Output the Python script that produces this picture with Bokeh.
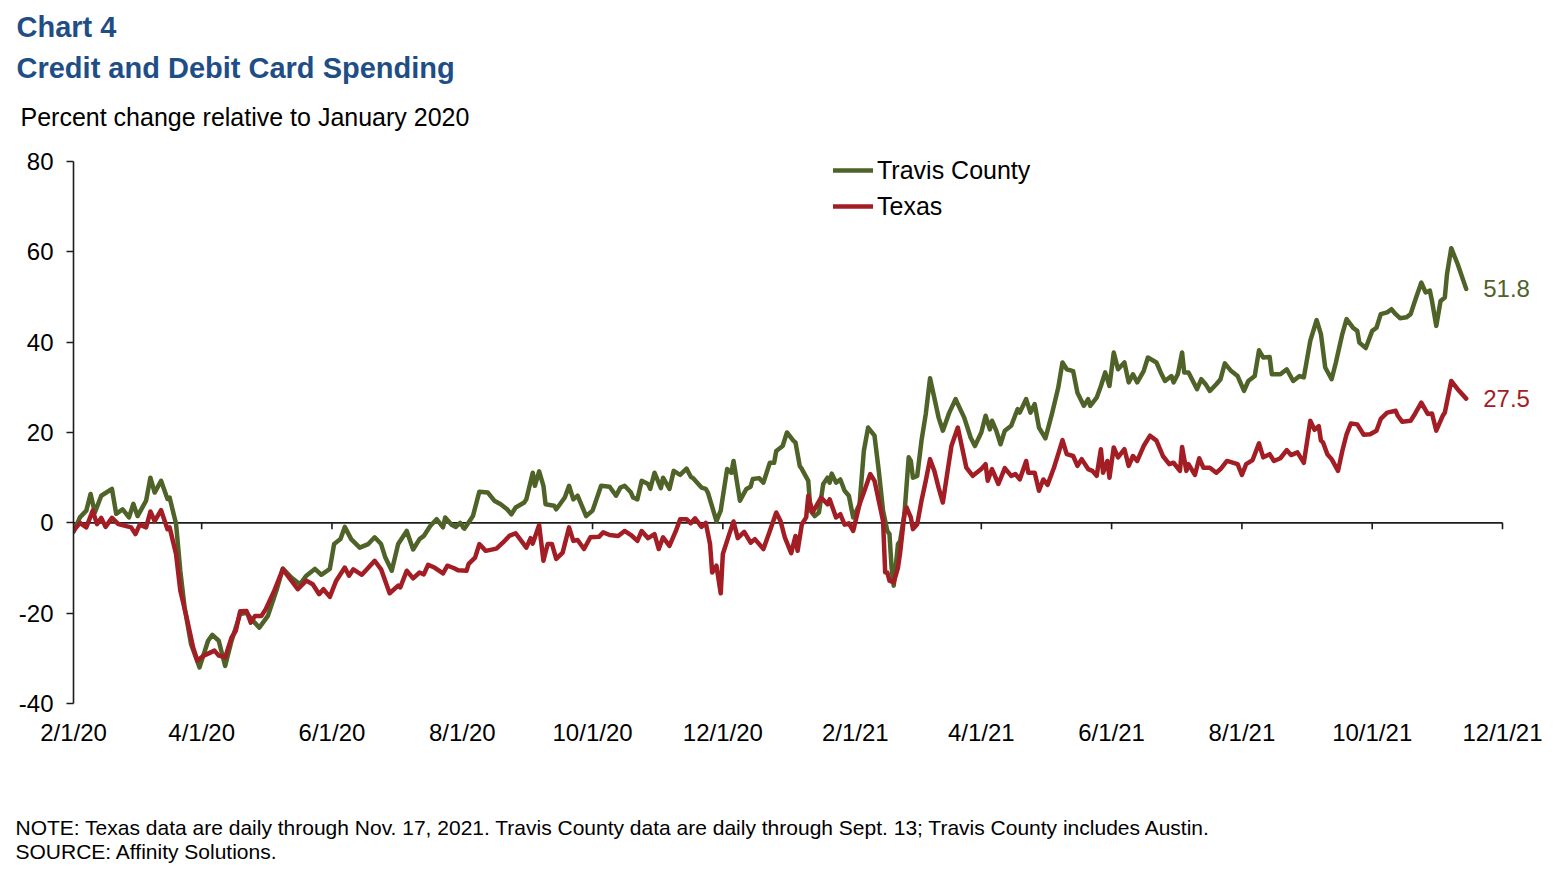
import pandas as pd
from bokeh.plotting import figure
from bokeh.layouts import column
from bokeh.models import (Range1d, FixedTicker, Label, Legend, LegendItem,
                          ColumnDataSource, DatetimeAxis)
from bokeh.embed import file_html
from bokeh.resources import INLINE

# ---------------- data (days since 2/1/2020, percent change vs Jan 2020) -------------
start_date = "2020-02-01"

travis_day = [0,3,6,8,10,13,18,20,23,26,28,30,34,36,38,41,44,45,48,50,52,55,59,63,65,68,71,74,78,81,
              84,87,91,95,98,102,106,109,113,116,120,122,125,127,130,134,138,141,144,146,149,152,156,159,162,164,167,170,173,174,
              177,179,181,183,186,187,190,194,197,200,203,205,207,211,212,215,216,218,220,221,225,226,230,232,234,236,240,243,247,251,
              254,256,258,261,262,264,266,269,270,272,275,276,279,281,284,287,289,290,294,296,297,301,303,306,308,309,312,315,317,318,
              321,323,326,328,329,332,334,337,338,340,341,344,345,347,349,351,353,354,355,357,359,361,363,365,368,370,372,375,377,379,
              381,382,383,384,386,387,389,391,392,393,395,397,399,401,403,405,407,410,413,414,417,420,422,425,427,429,430,432,434,436,
              439,442,443,446,448,450,452,455,458,461,463,465,468,470,473,475,476,479,481,483,485,487,489,492,494,496,498,501,503,507,
              509,511,514,515,517,519,520,522,526,528,530,532,535,537,539,542,545,548,550,553,555,557,560,561,565,568,571,574,576,579,
              582,584,586,589,591,594,596,599,601,602,605,608,610,612,615,617,619,621,624,626,628,631,633,635,636,638,640,642,643,645,
              648,652]
travis_val = [-2.0,1.2,2.7,6.4,2.3,6.0,7.5,2.0,3.0,1.2,4.2,1.5,4.9,10.0,6.7,9.3,5.3,5.6,-0.2,-10.6,-18.7,-26.8,-32.0,-26.1,-24.8,-26.1,-31.7,-26.1,-20.2,-19.9,
              -21.7,-23.2,-20.6,-15.0,-10.1,-12.1,-13.6,-11.7,-10.2,-11.5,-10.2,-4.7,-3.6,-0.9,-3.6,-5.5,-4.7,-3.2,-4.7,-7.7,-10.6,-4.7,-1.8,-5.9,-3.6,-2.9,-0.7,0.8,-1.0,1.2,
              -0.4,-0.9,0.0,-1.3,0.8,1.5,6.9,6.7,4.9,4.1,3.0,1.9,3.4,4.5,5.2,11.1,8.2,11.4,8.2,4.1,3.8,3.0,5.6,8.2,5.2,6.0,1.5,2.7,8.2,8.0,
              6.0,7.8,8.2,6.7,5.6,5.2,9.3,8.6,7.5,11.1,7.7,10.0,7.5,11.5,10.6,12.0,10.2,9.9,7.8,7.5,6.7,0.4,2.7,11.9,11.1,13.7,4.9,7.5,8.0,9.7,
              9.9,8.9,13.3,13.3,15.9,17.0,20.0,18.2,17.8,12.6,11.9,9.3,2.7,1.5,2.3,8.6,10.0,8.9,10.9,8.9,9.6,7.1,6.0,1.2,4.1,15.9,21.1,19.3,11.5,2.7,
              -1.8,-2.5,-9.9,-13.9,-4.7,-4.0,1.9,14.5,13.7,10.0,10.4,18.2,24.1,32.0,27.7,23.3,20.4,24.4,27.4,26.3,23.3,18.9,17.0,20.0,23.7,20.7,22.6,20.4,17.4,20.4,
              21.5,25.2,24.4,27.4,24.4,26.3,21.1,18.7,24.0,29.9,35.5,34.0,33.6,28.8,25.9,27.4,25.9,27.7,30.3,33.3,30.3,37.7,34.0,35.5,31.1,32.9,31.1,33.6,36.6,35.5,
              33.3,31.4,32.5,31.1,32.9,37.7,33.3,33.3,29.6,31.8,30.7,29.2,30.7,31.8,35.3,33.6,32.5,29.2,31.4,32.5,38.2,36.6,36.7,32.9,32.9,34.0,31.4,32.5,32.2,40.3,
              44.9,41.8,34.4,31.8,35.5,41.8,45.1,43.2,42.5,39.9,38.7,42.5,43.2,46.2,46.6,47.3,46.2,45.3,45.5,46.2,49.1,53.2,51.0,51.4,49.1,43.6,49.1,49.9,55.0,60.8,
              57.3,51.8]

texas_day = [0,3,6,9,11,13,15,18,21,27,29,31,34,36,38,41,44,45,48,50,53,56,58,61,66,68,71,74,76,78,
             81,83,85,88,90,94,98,102,105,109,112,115,117,120,123,127,129,131,135,141,144,148,152,153,156,159,162,164,166,169,
             173,175,178,180,184,185,188,190,193,198,201,204,207,212,214,215,218,220,222,224,226,229,232,234,236,239,242,246,248,251,
             255,258,261,264,266,269,272,274,276,279,282,284,287,289,291,294,296,298,299,301,303,304,307,309,311,314,317,319,323,326,
             329,331,333,336,338,339,341,343,344,346,350,353,354,357,359,361,363,365,368,370,373,375,377,379,380,381,382,384,386,387,
             389,390,392,393,395,397,399,401,403,405,407,409,411,414,416,418,421,425,427,428,430,433,436,439,441,443,446,447,450,452,
             454,456,459,461,463,465,468,470,472,475,477,479,481,482,484,485,487,489,492,494,496,498,501,504,507,510,513,515,518,519,
             521,522,525,527,529,532,535,537,540,545,547,549,552,555,557,560,562,565,568,570,573,576,579,581,583,584,585,587,589,592,
             594,596,598,601,604,607,610,612,615,619,620,622,626,628,631,634,636,638,641,642,645,648,652]
texas_val = [-1.8,0.0,-1.0,2.7,-0.3,1.1,-0.9,1.1,-0.3,-1.0,-2.5,-0.4,-1.0,2.5,0.4,2.8,-1.4,-1.0,-6.9,-15.0,-21.0,-27.6,-30.5,-29.4,-28.3,-29.4,-29.8,-25.4,-23.9,-19.6,
             -19.5,-22.1,-20.6,-20.6,-19.1,-15.0,-10.3,-12.8,-14.7,-12.8,-13.6,-15.8,-14.7,-16.4,-12.8,-9.9,-11.7,-10.3,-11.5,-8.4,-10.3,-15.6,-13.9,-14.3,-10.6,-12.3,-11.0,-11.4,-9.3,-9.9,
             -11.2,-9.5,-10.0,-10.5,-10.6,-9.1,-7.7,-4.7,-6.2,-5.7,-4.4,-2.9,-2.3,-5.5,-3.4,-4.6,-0.5,-8.4,-4.7,-4.7,-8.0,-6.6,-1.0,-4.0,-3.8,-5.8,-3.2,-3.1,-2.1,-2.7,
             -2.9,-1.8,-2.7,-4.0,-1.8,-3.4,-2.5,-5.8,-3.2,-5.1,-1.8,0.8,0.8,-0.1,1.0,-0.9,0.0,-4.7,-11.0,-9.5,-15.6,-6.9,-2.5,0.3,-3.4,-2.0,-4.4,-3.6,-5.8,-1.8,
             2.3,0.4,-3.2,-6.7,-2.9,-6.2,-0.3,1.2,6.0,2.3,5.6,4.1,5.2,1.2,1.9,-0.4,-0.1,-1.8,4.1,6.7,10.8,9.3,4.9,0.4,-11.0,-11.0,-12.8,-13.2,-9.9,-6.6,
             1.9,3.4,1.2,-1.4,-0.3,4.9,9.3,14.1,11.5,7.8,4.5,10.8,17.0,21.1,16.7,12.2,10.4,11.9,13.0,9.3,11.9,8.6,12.1,10.4,10.8,9.6,13.7,11.1,11.1,7.1,
             9.6,8.4,12.2,15.2,18.3,15.2,14.8,12.6,14.1,11.9,11.5,10.4,16.3,11.1,13.7,10.0,16.7,14.5,16.3,12.6,14.8,13.7,17.0,19.3,18.2,14.8,13.0,13.3,11.5,16.8,
             11.5,13.0,10.6,14.3,12.2,12.2,11.1,11.9,13.7,13.0,10.6,13.0,13.9,17.6,14.5,15.2,13.7,14.3,16.1,15.0,15.6,13.3,22.6,20.6,21.4,18.2,17.8,15.2,14.1,11.5,
             15.9,19.6,22.0,21.8,19.5,19.6,20.4,23.0,24.4,24.8,23.7,22.4,22.6,24.1,26.6,24.1,24.2,20.4,23.7,24.4,31.4,29.6,27.5]

tick_labels = ["2/1/20", "4/1/20", "6/1/20", "8/1/20", "10/1/20", "12/1/20",
               "2/1/21", "4/1/21", "6/1/21", "8/1/21", "10/1/21", "12/1/21"]
y_ticks = [-40, -20, 0, 20, 40, 60, 80]

# ---------------- styles / layout ------------------------------------------------------
GREEN = "#4F6228"
RED = "#A31D24"
BLUE = "#1F4E86"
FONT = "Liberation Sans"
AXIS = "#1c1c1c"
W = 1550
HEAD_H, MAIN_H, FOOT_H = 140, 660, 75
LEFT, AXIS_RIGHT = 73, 1502      # frame left edge and x-position of the last tick

base = pd.Timestamp(start_date)
travis_x = [base + pd.Timedelta(days=d) for d in travis_day]
texas_x = [base + pd.Timedelta(days=d) for d in texas_day]
tick_dates = [pd.to_datetime(t, format="%m/%d/%y") for t in tick_labels]
tick_ms = [float(t.value // 10**6) for t in tick_dates]


def blank(h):
    f = figure(width=W, height=h, output_backend="svg", toolbar_location=None,
               x_axis_type=None, y_axis_type=None, min_border=0,
               x_range=Range1d(0, W), y_range=Range1d(h, 0))
    f.frame_align = False
    f.outline_line_color = None
    f.background_fill_color = "white"
    f.border_fill_color = "white"
    return f


def txt(f, x, y, s, size, color="black", style="normal"):
    f.add_layout(Label(x=x, y=y, text=s, text_font=FONT, text_font_size=size,
                       text_color=color, text_font_style=style, text_baseline="alphabetic"))


# ---------------- header ----------------
head = blank(HEAD_H)
txt(head, 16, 26, "Chart 4", "29px", BLUE, "bold")
txt(head, 16, 67, "Credit and Debit Card Spending", "29px", BLUE, "bold")
txt(head, 20, 116, "Percent change relative to January 2020", "25px")

# ---------------- main chart ----------------
# frame extends to the right edge so the end-point labels fit; the axis itself ends at 12/1/21
frame_w = W - LEFT
span = tick_dates[-1] - tick_dates[0]
x_end = tick_dates[0] + span * (frame_w / (AXIS_RIGHT - LEFT))

p = figure(width=W, height=MAIN_H, output_backend="svg", toolbar_location=None,
           x_axis_type=None, y_axis_type="linear",
           min_border_left=LEFT, min_border_right=0, min_border_top=21, min_border_bottom=97)
p.frame_align = False
p.x_range = Range1d(tick_dates[0], x_end)
p.y_range = Range1d(y_ticks[0], y_ticks[-1])
p.outline_line_color = None
p.grid.visible = False
p.background_fill_color = "white"
p.border_fill_color = "white"

xax = DatetimeAxis(ticker=FixedTicker(ticks=tick_ms))
xax.major_label_overrides = {ms: lab for ms, lab in zip(tick_ms, tick_labels)}
xax.axis_line_color = None
xax.major_tick_line_color = None
xax.minor_tick_line_color = None
xax.major_label_standoff = 9
xax.major_label_text_font = FONT
xax.major_label_text_font_size = "24px"
xax.major_label_text_color = "black"
p.add_layout(xax, "below")

yax = p.yaxis[0]
yax.ticker = FixedTicker(ticks=y_ticks)
yax.major_label_overrides = {v: str(v) for v in y_ticks}
yax.axis_line_color = AXIS
yax.axis_line_width = 1.6
yax.major_tick_line_color = AXIS
yax.major_tick_line_width = 1.6
yax.major_tick_in = 0
yax.major_tick_out = 7
yax.minor_tick_line_color = None
yax.major_label_standoff = 13
yax.major_label_text_font = FONT
yax.major_label_text_font_size = "24px"
yax.major_label_text_color = "black"

# zero line (from first to last tick) with ticks hanging below it
p.segment(x0=[tick_dates[0]], y0=[0], x1=[tick_dates[-1]], y1=[0], line_color=AXIS, line_width=1.6)
p.segment(x0=tick_dates, y0=[0] * len(tick_dates), x1=tick_dates, y1=[-1.4] * len(tick_dates),
          line_color=AXIS, line_width=1.6)

src_t = ColumnDataSource(dict(x=travis_x, y=travis_val))
src_x = ColumnDataSource(dict(x=texas_x, y=texas_val))
r_travis = p.line("x", "y", source=src_t, line_color=GREEN, line_width=4.5,
                  line_join="round", line_cap="round")
r_texas = p.line("x", "y", source=src_x, line_color=RED, line_width=4.5,
                 line_join="round", line_cap="round")

p.add_layout(Label(x=travis_x[-1], y=travis_val[-1], x_offset=17, text=f"{travis_val[-1]:.1f}",
                   text_baseline="middle", text_color=GREEN, text_font=FONT, text_font_size="24px"))
p.add_layout(Label(x=texas_x[-1], y=texas_val[-1], x_offset=17, text=f"{texas_val[-1]:.1f}",
                   text_baseline="middle", text_color=RED, text_font=FONT, text_font_size="24px"))

legend = Legend(items=[LegendItem(label="Travis County", renderers=[r_travis]),
                       LegendItem(label="Texas", renderers=[r_texas])],
                location=(760, 481), orientation="vertical",
                glyph_width=40, glyph_height=32, label_height=32, label_width=175, spacing=4,
                padding=0, margin=0, label_standoff=4,
                border_line_color=None, background_fill_alpha=0,
                label_text_font=FONT, label_text_font_size="25px", label_text_color="black")
p.add_layout(legend, "center")

# ---------------- footer ----------------
foot = blank(FOOT_H)
txt(foot, 15, 27, "NOTE: Texas data are daily through Nov. 17, 2021. Travis County data are daily "
                  "through Sept. 13; Travis County includes Austin.", "21px")
txt(foot, 15, 51, "SOURCE: Affinity Solutions.", "21px")

layout = column(head, p, foot, spacing=0)
open("out.html", "w").write(file_html(layout, INLINE))
